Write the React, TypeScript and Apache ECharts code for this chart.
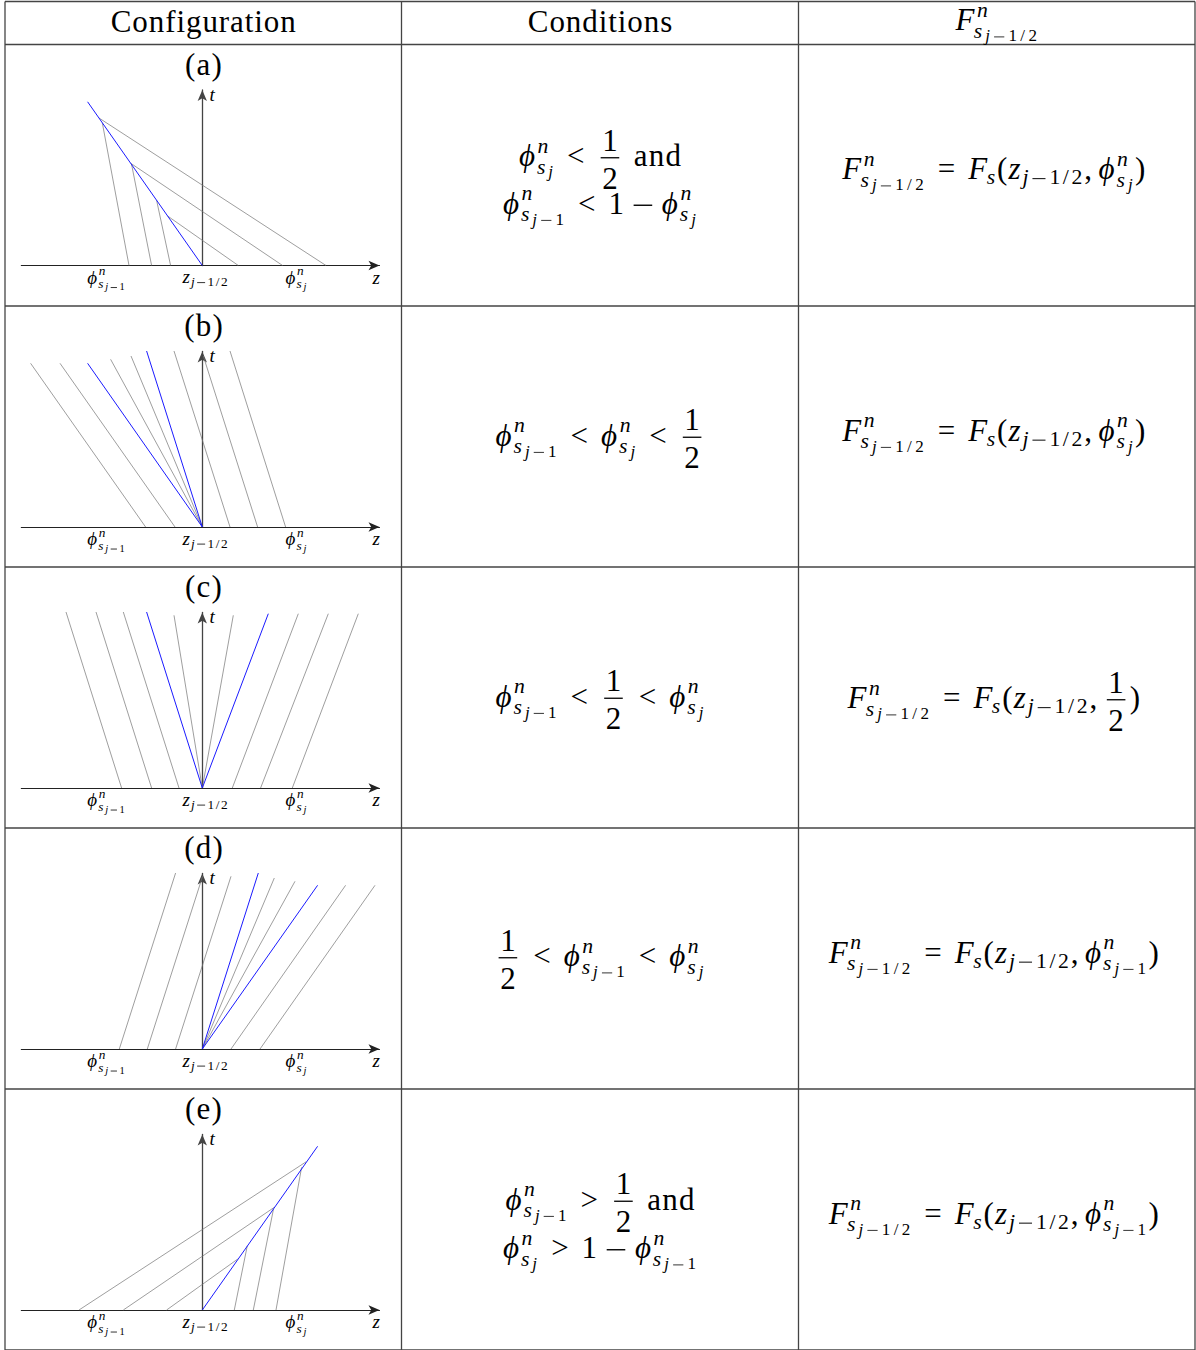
import React, { useEffect, useRef } from "react";
import * as echarts from "echarts";

const PAGE_W = 1196;
const PAGE_H = 1350;

// table frame
const COLUMN_LINES = [5, 401.5, 798.5, 1195];
const ROW_LINES = [1.5, 44.5, 306, 567, 828, 1089, 1350];
const HEADERS = ["Configuration", "Conditions"];
const PANEL_TAGS = ["(a)", "(b)", "(c)", "(d)", "(e)"];
const Z_LABEL_POS = [-9.6, 0.3, 9.4];

// characteristic segments [z0, t0, z1, t1] for each configuration
const blueA = [[0, 0, -11.47, 16.37]];
const grayA = [
  [-10.33, 14.75, 12.37, 0],
  [-10.0, 14.27, -7.33, 0],
  [-7.17, 10.23, 8.03, 0],
  [-7.07, 10.1, -5.07, 0],
  [-3.47, 4.95, 3.6, 0],
  [-4.57, 6.52, -3.17, 0],
];
const blueB = [
  [0, 0, -11.47, 16.37],
  [0, 0, -5.57, 17.6],
];
const grayB = [
  [-17.17, 16.37, -5.67, 0],
  [-14.23, 16.37, -2.73, 0],
  [-9.17, 16.77, 0, 0],
  [-7.13, 17.1, 0, 0],
  [-2.83, 17.6, 2.77, 0],
  [0.1, 17.1, 5.53, 0],
  [2.77, 17.6, 8.33, 0],
];
const blueC = [
  [0, 0, -5.57, 17.6],
  [0, 0, 6.6, 17.43],
];
const grayC = [
  [-13.63, 17.6, -8.07, 0],
  [-10.63, 17.6, -5.07, 0],
  [-7.9, 17.6, -2.33, 0],
  [-2.83, 17.27, 0, 0],
  [3.1, 17.27, 0, 0],
  [9.6, 17.43, 3.0, 0],
  [12.6, 17.43, 5.83, 0],
  [15.6, 17.43, 9.0, 0],
];
const blueD = [
  [0, 0, 5.6, 17.6],
  [0, 0, 11.53, 16.37],
];
const grayD = [
  [-2.67, 17.6, -8.3, 0],
  [0.03, 17.27, -5.5, 0],
  [2.87, 17.27, -2.67, 0],
  [7.2, 17.1, 0, 0],
  [9.27, 16.77, 0, 0],
  [14.33, 16.37, 2.87, 0],
  [17.27, 16.37, 5.77, 0],
];
const blueE = [[0, 0, 11.53, 16.37]];
const grayE = [
  [10.4, 14.83, -12.33, 0],
  [9.93, 14.27, 7.37, 0],
  [7.2, 10.27, -7.9, 0],
  [7.12, 10.1, 5.1, 0],
  [4.5, 6.43, 3.2, 0],
  [3.55, 5.1, -3.57, 0],
];
const BLUE = [blueA, blueB, blueC, blueD, blueE];
const GRAY = [grayA, grayB, grayC, grayD, grayE];

// ---------- tiny math layout ----------
const FONT = "Liberation Serif, DejaVu Serif, serif";
const T0 = 0.04; // tracking, text style
const T1 = 0.12; // tracking, script style
const T2 = 0.2; // tracking, scriptscript style
const WIDE = "<>=";
let mctx: CanvasRenderingContext2D | null = null;
function measure(s: string, size: number, it: boolean): number {
  if (!mctx) mctx = document.createElement("canvas").getContext("2d");
  mctx!.font = `${it ? "italic " : ""}${size}px ${FONT}`;
  return mctx!.measureText(s).width;
}
type Item =
  | { k: "s"; x: number; y: number; s: string; size: number; it: boolean }
  | { k: "r"; x: number; y: number; w: number; lw: number };
type Box = { w: number; items: Item[] };
function txt(s: string, size: number, it: boolean, track: number): Box {
  let x = 0;
  const items: Item[] = [];
  for (const ch of Array.from(s)) {
    if (ch === "−") {
      // long TeX-like minus drawn as a rule on the math axis
      const adv = 0.78 * size + 0.5 * track * size;
      const bar = 0.6 * size;
      items.push({ k: "r", x: x + (adv - bar) / 2, y: -0.25 * size, w: bar, lw: Math.max(0.8, 0.045 * size) });
      x += adv;
      continue;
    }
    const m = measure(ch, size, it);
    let adv = m + track * size;
    let off = (track * size) / 2;
    if (WIDE.includes(ch)) {
      adv = Math.max(adv, 0.8 * size);
      off = (adv - m) / 2;
    }
    items.push({ k: "s", x: x + off, y: 0, s: ch, size, it });
    x += adv;
  }
  return { w: x, items };
}
const I = (s: string, size: number, t = T0) => txt(s, size, true, t);
const R = (s: string, size: number, t = T0) => txt(s, size, false, t);
const sp = (w: number): Box => ({ w, items: [] });
const shift = (b: Box, dx: number, dy: number): Item[] =>
  b.items.map((it) => ({ ...it, x: it.x + dx, y: it.y + dy }));
function hc(...bs: Box[]): Box {
  let x = 0;
  const items: Item[] = [];
  for (const b of bs) {
    items.push(...shift(b, x, 0));
    x += b.w;
  }
  return { w: x, items };
}
function sc(base: Box, sup: Box | null, sub: Box | null, size: number, subKern = 0): Box {
  const items = [...base.items];
  let extra = 0;
  if (sup) {
    items.push(...shift(sup, base.w + 0.02 * size, -0.42 * size));
    extra = Math.max(extra, sup.w + 0.02 * size);
  }
  if (sub) {
    const dy = sup ? 0.25 * size : 0.18 * size;
    items.push(...shift(sub, base.w + subKern, dy));
    extra = Math.max(extra, sub.w + subKern);
  }
  return { w: base.w + extra, items };
}
function fr(num: Box, den: Box, size: number): Box {
  const inner = Math.max(num.w, den.w) + 0.06 * size;
  const pad = 0.12 * size;
  const items: Item[] = [
    ...shift(num, pad + (inner - num.w) / 2, -0.5 * size),
    ...shift(den, pad + (inner - den.w) / 2, 0.72 * size),
    { k: "r", x: pad, y: -0.25 * size, w: inner, lw: 0.042 * size },
  ];
  return { w: inner + 2 * pad, items };
}
const rel = (s: string, S: number) => hc(sp(0.28 * S), R(s, S, 0), sp(0.28 * S));
const bin = (s: string, S: number) => hc(sp(0.2 * S), R(s, S, 0), sp(0.2 * S));
const s1 = (S: number) => 0.7 * S;
const s2 = (S: number) => 0.55 * S;
const phiSj = (S: number) =>
  sc(
    I("ϕ", S),
    I("n", s1(S), T1),
    sc(I("s", s1(S), T1), null, I("j", s2(S), T2), s1(S)),
    S
  );
const phiSj1 = (S: number) =>
  sc(
    I("ϕ", S),
    I("n", s1(S), T1),
    sc(I("s", s1(S), T1), null, hc(I("j", s2(S), T2), R("−1", s2(S), T2)), s1(S)),
    S
  );
const zHalf = (S: number) =>
  sc(I("z", S), null, hc(I("j", s1(S), T1), R("−1/2", s1(S), T1)), S);
const Fhalf = (S: number) =>
  sc(
    I("F", S),
    I("n", s1(S), T1),
    sc(I("s", s1(S), T1), null, hc(I("j", s2(S), T2), R("−1/2", s2(S), T2)), s1(S)),
    S,
    -0.08 * S
  );
const Fs = (S: number) => sc(I("F", S), null, I("s", s1(S), T1), S, -0.08 * S);
const half = (S: number) => fr(R("1", S), R("2", S), S);

function place(b: Box, cx: number, baseline: number, center = true): any[] {
  const x0 = center ? cx - b.w / 2 : cx;
  return b.items.map((it) =>
    it.k === "s"
      ? {
          type: "text",
          silent: true,
          x: x0 + it.x,
          y: baseline + it.y - 0.31 * it.size,
          style: {
            text: it.s,
            fontSize: it.size,
            fontStyle: it.it ? "italic" : "normal",
            fontFamily: FONT,
            fill: "#000",
            align: "left",
            verticalAlign: "middle",
            lineHeight: it.size * 0.72,
          },
        }
      : {
          type: "line",
          silent: true,
          shape: {
            x1: x0 + it.x,
            y1: baseline + it.y,
            x2: x0 + it.x + it.w,
            y2: baseline + it.y,
          },
          style: { stroke: "#000", lineWidth: it.lw },
        }
  );
}

const ORIGIN_X = 202.3;
const PX = 10; // px per z/t unit
const Z_MIN = -18.1;
const Z_MAX = 17.72;
const T_MAX = 17.55;

function buildOption() {
  const S = 31;
  const L = 19;
  const g: any[] = [];
  // table frame
  for (const y of ROW_LINES)
    g.push({ type: "line", silent: true, shape: { x1: COLUMN_LINES[0], y1: y, x2: COLUMN_LINES[3], y2: y }, style: { stroke: "#444", lineWidth: 1.3 } });
  for (const x of COLUMN_LINES)
    g.push({ type: "line", silent: true, shape: { x1: x, y1: ROW_LINES[0], x2: x, y2: PAGE_H }, style: { stroke: "#444", lineWidth: 1.3 } });
  // header
  g.push(...place(R(HEADERS[0], S, 0.03), (COLUMN_LINES[0] + COLUMN_LINES[1]) / 2, 31));
  g.push(...place(R(HEADERS[1], S, 0.03), (COLUMN_LINES[1] + COLUMN_LINES[2]) / 2, 31));
  g.push(...place(Fhalf(S), (COLUMN_LINES[2] + COLUMN_LINES[3]) / 2, 29.5));

  const condCx = (COLUMN_LINES[1] + COLUMN_LINES[2]) / 2;
  const formCx = (COLUMN_LINES[2] + COLUMN_LINES[3]) / 2 - 3;
  const comma = () => hc(R(",", S), sp(0.17 * S));
  const conds: { box: Box; dy: number }[][] = [
    [
      { box: hc(phiSj(S), rel("<", S), half(S), sp(0.33 * S), R("and", S)), dy: 121 },
      { box: hc(phiSj1(S), rel("<", S), R("1", S), bin("−", S), phiSj(S)), dy: 168.5 },
    ],
    [{ box: hc(phiSj1(S), rel("<", S), phiSj(S), rel("<", S), half(S)), dy: 139 }],
    [{ box: hc(phiSj1(S), rel("<", S), half(S), rel("<", S), phiSj(S)), dy: 139 }],
    [{ box: hc(half(S), rel("<", S), phiSj1(S), rel("<", S), phiSj(S)), dy: 137.5 }],
    [
      { box: hc(phiSj1(S), rel(">", S), half(S), sp(0.33 * S), R("and", S)), dy: 120 },
      { box: hc(phiSj(S), rel(">", S), R("1", S), bin("−", S), phiSj1(S)), dy: 168.5 },
    ],
  ];
  const lhs = () => hc(Fhalf(S), rel("=", S), Fs(S), R("(", S), zHalf(S), comma());
  const forms: { box: Box; dy: number }[] = [
    { box: hc(lhs(), phiSj(S), R(")", S)), dy: 134 },
    { box: hc(lhs(), phiSj(S), R(")", S)), dy: 134 },
    { box: hc(lhs(), half(S), R(")", S)), dy: 140.5 },
    { box: hc(lhs(), phiSj1(S), R(")", S)), dy: 134 },
    { box: hc(lhs(), phiSj1(S), R(")", S)), dy: 134 },
  ];

  const grids: any[] = [];
  const xAxes: any[] = [];
  const yAxes: any[] = [];
  const series: any[] = [];
  for (let i = 0; i < 5; i++) {
    const top = ROW_LINES[i + 1];
    const y0 = top + 221;
    grids.push({
      left: ORIGIN_X + Z_MIN * PX,
      width: (Z_MAX - Z_MIN) * PX,
      top: y0 - T_MAX * PX,
      height: T_MAX * PX,
      containLabel: false,
      outerBoundsMode: "none",
    });
    xAxes.push({
      gridIndex: i,
      type: "value",
      min: Z_MIN,
      max: Z_MAX,
      axisLine: { show: true, symbol: ["none", "arrow"], symbolSize: [7, 11], lineStyle: { color: "#222", width: 1.1 } },
      axisTick: { show: false },
      axisLabel: { show: false },
      splitLine: { show: false },
    });
    yAxes.push({
      gridIndex: i,
      type: "value",
      min: 0,
      max: T_MAX,
      axisLine: { show: true, onZero: true, symbol: ["none", "arrow"], symbolSize: [7, 11], lineStyle: { color: "#444", width: 1.3 } },
      axisTick: { show: false },
      axisLabel: { show: false },
      splitLine: { show: false },
    });
    series.push({
      type: "lines",
      coordinateSystem: "cartesian2d",
      xAxisIndex: i,
      yAxisIndex: i,
      silent: true,
      clip: false,
      data: GRAY[i].map((s) => ({ coords: [[s[0], s[1]], [s[2], s[3]]] })),
      lineStyle: { color: "#747474", width: 0.7, opacity: 1 },
      z: 2,
    });
    series.push({
      type: "lines",
      coordinateSystem: "cartesian2d",
      xAxisIndex: i,
      yAxisIndex: i,
      silent: true,
      clip: false,
      data: BLUE[i].map((s) => ({ coords: [[s[0], s[1]], [s[2], s[3]]] })),
      lineStyle: { color: "#1a1aff", width: 1, opacity: 1 },
      z: 3,
    });

    // diagram texts
    g.push(...place(R(PANEL_TAGS[i], S), 203.5, top + 29.5));
    g.push(...place(I("t", L), 209, top + 55.5, false));
    g.push(...place(I("z", L), 372, top + 238.5, false));
    g.push(...place(phiSj1(L), ORIGIN_X + Z_LABEL_POS[0] * PX, top + 238.5));
    g.push(...place(zHalf(L), ORIGIN_X + Z_LABEL_POS[1] * PX, top + 238));
    g.push(...place(phiSj(L), ORIGIN_X + Z_LABEL_POS[2] * PX, top + 238.5));

    for (const c of conds[i]) g.push(...place(c.box, condCx, top + c.dy));
    g.push(...place(forms[i].box, formCx, top + forms[i].dy));
  }

  return {
    animation: false,
    backgroundColor: "#ffffff",
    grid: grids,
    xAxis: xAxes,
    yAxis: yAxes,
    series,
    graphic: { elements: g },
  };
}

export default function App() {
  const ref = useRef<HTMLDivElement>(null);
  useEffect(() => {
    document.body.style.margin = "0";
    const chart = echarts.init(ref.current!, undefined, { renderer: "svg" });
    chart.setOption(buildOption() as any);
    return () => chart.dispose();
  }, []);
  return <div ref={ref} style={{ width: PAGE_W, height: PAGE_H }} />;
}
